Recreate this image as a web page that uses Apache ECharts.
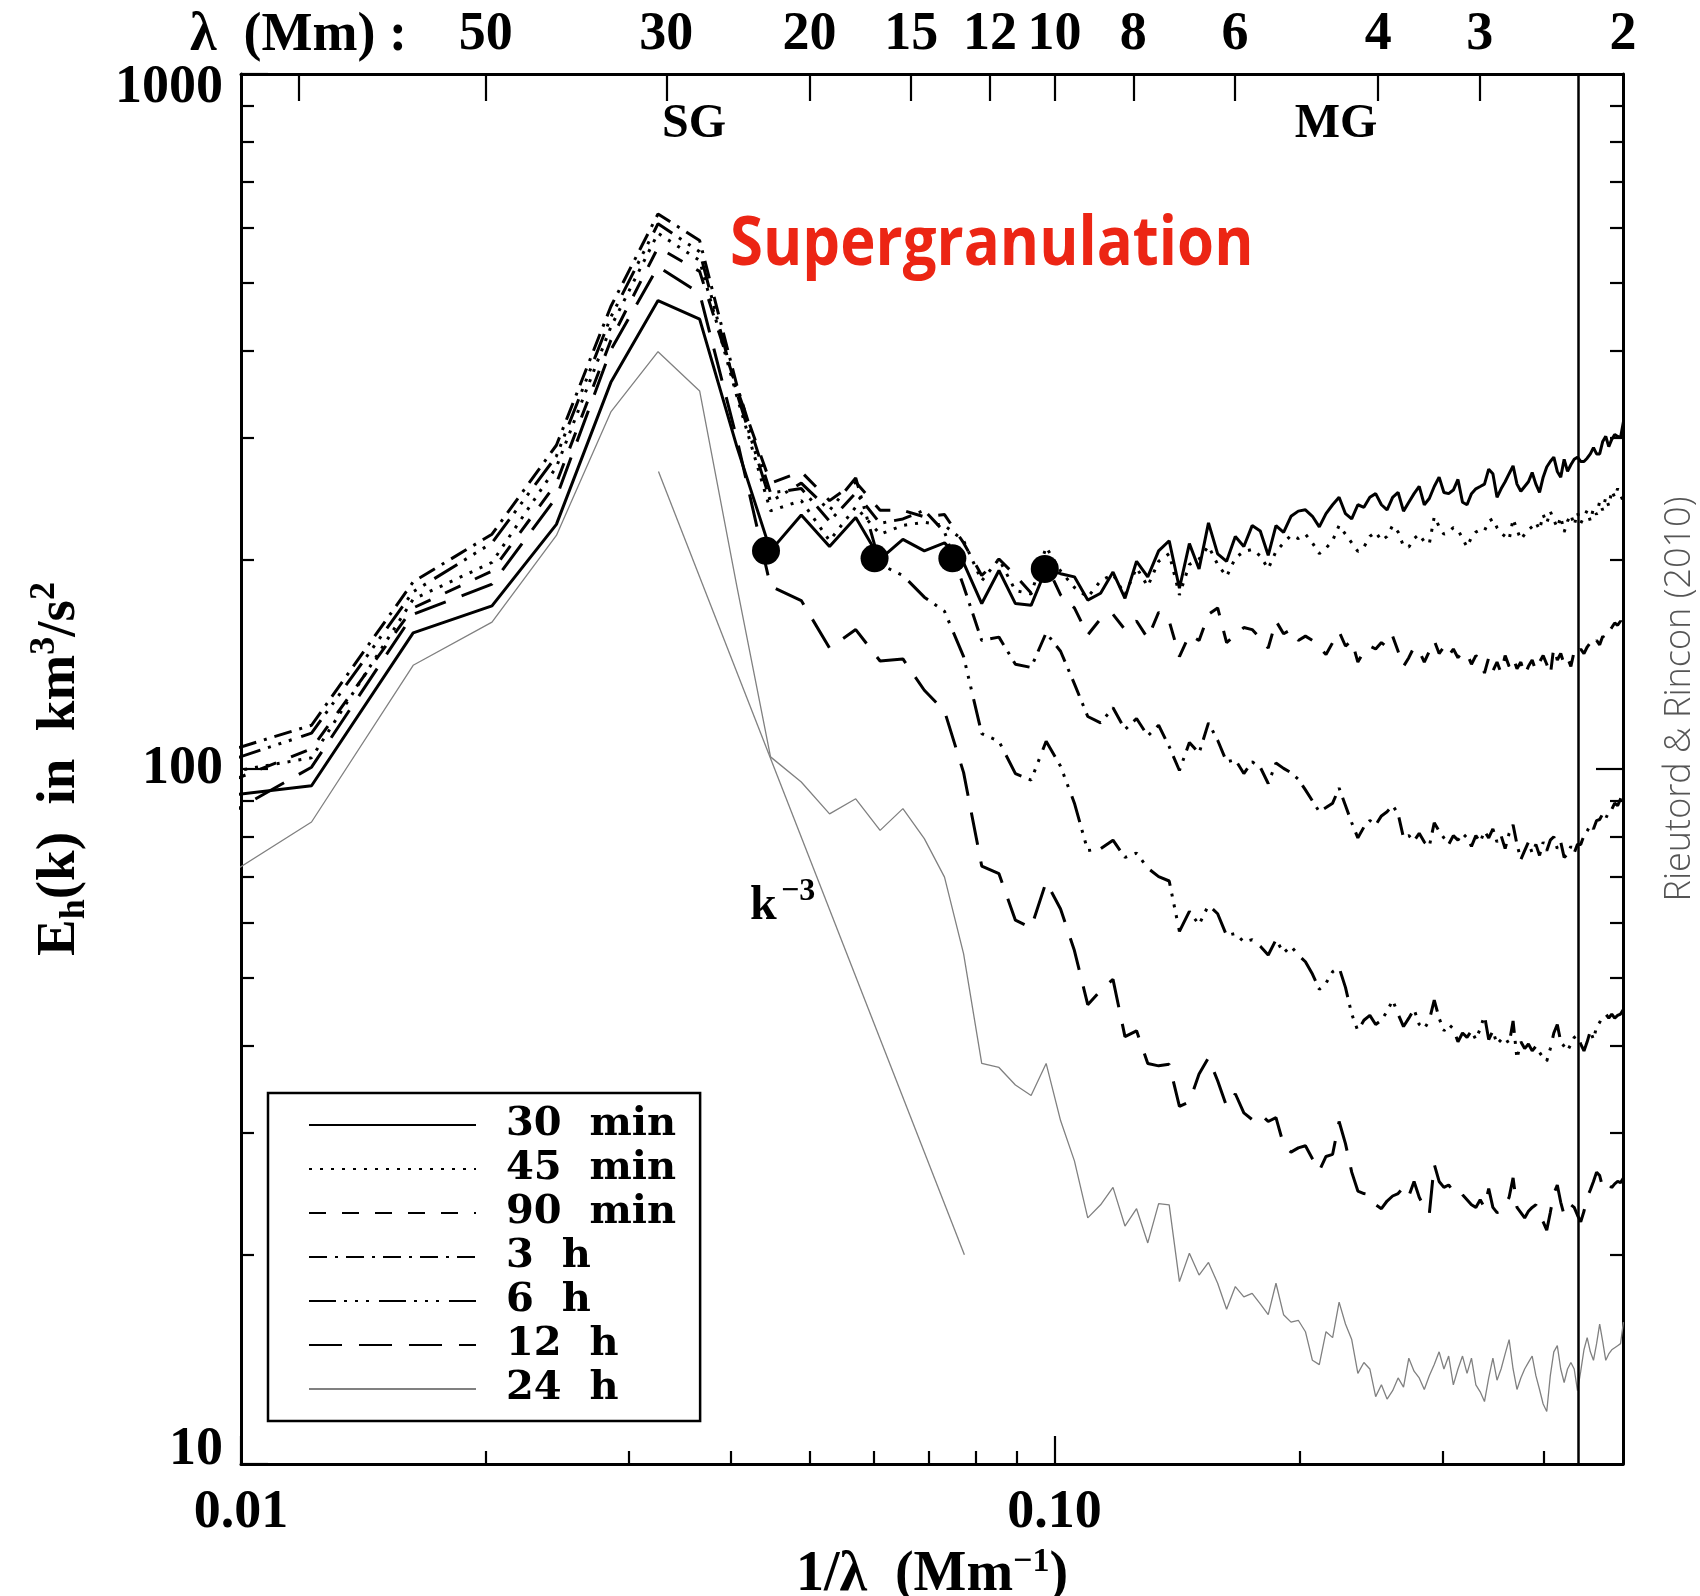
<!DOCTYPE html>
<html>
<head>
<meta charset="utf-8">
<title>Horizontal kinetic energy spectra</title>
<script src="https://cdn.jsdelivr.net/npm/echarts@6.0.0/dist/echarts.min.js"></script>
<style>
  html, body { margin: 0; padding: 0; background: #fff; }
  #main { width: 1700px; height: 1596px; }
</style>
</head>
<body>
<div id="main"></div>
<script>
// wavenumber 1/lambda (Mm^-1), one value per spectral bin
const wavenumber = [
  0.00814, 0.01221, 0.01628, 0.02035, 0.02442, 0.02849, 0.03256, 0.03663, 0.0407, 0.04477,
  0.04884, 0.05291, 0.05698, 0.06105, 0.06512, 0.06919, 0.07326, 0.07733, 0.0814, 0.08547,
  0.08954, 0.09361, 0.09768, 0.10175, 0.10582, 0.10989, 0.11396, 0.11803, 0.1221, 0.12617,
  0.13024, 0.13431, 0.13838, 0.14245, 0.14652, 0.15059, 0.15466, 0.15873, 0.1628, 0.16687,
  0.17094, 0.17501, 0.17908, 0.18315, 0.18722, 0.19129, 0.19536, 0.19943, 0.2035, 0.20757,
  0.21164, 0.21571, 0.21978, 0.22385, 0.22792, 0.23199, 0.23606, 0.24013, 0.2442, 0.24827,
  0.25234, 0.25641, 0.26048, 0.26455, 0.26862, 0.27269, 0.27676, 0.28083, 0.2849, 0.28897,
  0.29304, 0.29711, 0.30118, 0.30525, 0.30932, 0.31339, 0.31746, 0.32153, 0.3256, 0.32967,
  0.33374, 0.33781, 0.34188, 0.34595, 0.35002, 0.35409, 0.35816, 0.36223, 0.3663, 0.37037,
  0.37444, 0.37851, 0.38258, 0.38665, 0.39072, 0.39479, 0.39886, 0.40293, 0.407, 0.41107,
  0.41514, 0.41921, 0.42328, 0.42735, 0.43142, 0.43549, 0.43956, 0.44363, 0.4477, 0.45177,
  0.45584, 0.45991, 0.46398, 0.46805, 0.47212, 0.47619, 0.48026, 0.48433, 0.4884, 0.49247,
  0.49654, 0.50061
];

// E_h(k) in km^3/s^2 for each averaging window
const e30min = [
  89.5, 94.6, 157, 171.7, 224.9, 360, 472, 444, 291, 206,
  232, 209, 230, 200.5, 214, 206, 211.5, 198, 173, 193,
  173, 172, 194, 191, 189, 175, 179, 192, 176, 199,
  189, 206, 213, 182, 211, 194, 226, 204, 199, 216,
  209, 224, 220, 203, 224, 219, 231, 235, 236, 231,
  223, 233, 240, 246, 233, 229, 240, 238, 246, 249,
  240, 236, 246, 250, 235, 242, 249, 255, 240, 245,
  255, 263, 250, 249, 252, 261, 242, 240, 249, 253,
  255, 257, 270, 266, 246, 253, 259, 266, 273, 257,
  251, 255, 259, 267, 257, 250, 263, 272, 277, 281,
  268, 263, 279, 268, 274, 279, 281, 277, 277, 280,
  284, 290, 284, 284, 296, 301, 291, 298, 303, 301,
  300, 316
];
const e45min = [
  95.6, 103.8, 175.5, 198.3, 272, 432.6, 590, 539, 343.6, 235.2,
  243.3, 213.1, 238.2, 217.7, 224.1, 226.5, 224.1, 213.1, 186.5, 200.5,
  180.6, 178.6, 208.6, 192.7, 182.5, 176.7, 186.5, 190.6, 178, 194.8,
  183.2, 199, 204.1, 178, 196.9, 200.5, 209.3, 196.9, 189.2, 201.2,
  205.6, 207, 202.6, 194.1, 205.6, 211.5, 216.9, 214.6, 217.7, 211.5,
  204.1, 207.8, 213.1, 224.1, 217.7, 211.5, 205.6, 208.6, 216.1, 219.3,
  213.1, 216.1, 224.1, 219.3, 209.3, 208.6, 214.6, 217.7, 212.3, 210.8,
  230.6, 223.3, 217.7, 219.3, 222.5, 220.9, 214.6, 208.6, 215.4, 219.3,
  220.9, 220.1, 227.3, 229, 222.5, 218.5, 216.1, 213.8, 229, 220.9,
  213.8, 217.7, 220.9, 223.3, 226.5, 220.9, 232.3, 225.7, 234.8, 228.2,
  222.5, 230.6, 219.3, 227.3, 232.3, 224.1, 233.9, 225.7, 230.6, 235.6,
  227.3, 237.3, 232.3, 242.5, 235.6, 246, 239, 251.4, 246, 253.2,
  247.8, 242.5
];
const e90min = [
  88.6, 106.9, 170.5, 192.7, 257.8, 414, 563, 520, 352.5, 257.8,
  267.7, 243.3, 258.7, 235.6, 235.6, 230.6, 232.3, 211.5, 189.9, 200.5,
  189.9, 179.2, 196.9, 178, 170.5, 155.9, 164.5, 166.9, 158.7, 163.3,
  154.2, 168.1, 163.3, 145.1, 155.9, 153.1, 166.9, 170.5, 152, 155.9,
  159.8, 158.7, 154.2, 149.3, 163.3, 156.5, 158.7, 153.1, 155.3, 153.1,
  149.8, 146.1, 152, 157.6, 150.3, 153.1, 142.5, 147.7, 150.3, 148.8,
  152, 149.8, 155.3, 147.7, 140.5, 144.6, 149.8, 147.7, 142.5, 147.7,
  153.1, 146.6, 149.8, 145.6, 148.8, 144.6, 147.7, 146.6, 141.5, 145.6,
  143.5, 137.4, 144.6, 138.4, 142.5, 137.4, 145.6, 140.5, 144.6, 139.4,
  142.5, 136.4, 140.5, 143.5, 138.4, 142.5, 145.6, 141.5, 136.4, 149.8,
  143.5, 146.6, 141.5, 144.6, 140.5, 147.7, 145.6, 148.8, 146.6, 149.8,
  152, 149.3, 153.1, 150.9, 155.3, 153.1, 157.6, 159.8, 162.2, 161,
  163.3, 159.8
];
const e3h = [
  99.9, 115.6, 185.9, 217.7, 292.3, 462.9, 629, 576, 356.3, 249.6,
  253.2, 227.3, 249.6, 225.7, 229, 235.6, 219.3, 183.2, 153.1, 154.8,
  141.5, 140, 157, 147.7, 132.6, 119, 116.5, 122.5, 114, 118.2,
  111.6, 115.6, 107.7, 99.5, 109.2, 105.4, 116.5, 110, 102.4, 103.1,
  98.5, 102.4, 100.6, 95.3, 102, 100.2, 98.8, 96.7, 93.3, 90,
  86.8, 88, 89.3, 93.9, 88.6, 83.7, 79.6, 82.5, 84.3, 83.1,
  85.6, 86.8, 88.6, 86.2, 79.6, 80.2, 78.8, 80.8, 78.5, 77.4,
  83.7, 81.4, 79.6, 77.9, 80.2, 79, 80.8, 79.6, 77.4, 80.2,
  78.5, 81.4, 79.6, 82, 78.5, 80.2, 76.8, 80.8, 83.1, 77.9,
  74.1, 76.3, 78.5, 75.7, 77.9, 75.1, 78.5, 76.3, 79, 79.9,
  76.8, 78.5, 74.6, 75.4, 77.4, 75.7, 77.9, 77.9, 80.2, 81.4,
  83.1, 82, 84.3, 84.6, 86.2, 84.9, 86.8, 87.5, 89.3, 88.6,
  90.6, 92.6
];
const e6h = [
  96.2, 112.6, 179.9, 211.5, 282, 447, 609, 555, 347.4, 242.5,
  257.8, 235.6, 262.4, 196.9, 189.9, 176.7, 168.6, 145.1, 112.4, 109.6,
  98.5, 96.4, 109.6, 100.9, 89.3, 76.3, 76.8, 79, 74.6, 75.7,
  72, 70, 69, 58.4, 62.4, 59.7, 63.7, 61.9, 57.6, 58,
  56.4, 56.8, 55.6, 54, 56.8, 54.4, 55.6, 54, 52.8, 50.7,
  48.2, 49.2, 51.1, 51.8, 48.5, 44.4, 42, 43.5, 44.2, 42.9,
  43.5, 44.8, 46.5, 44.4, 42.6, 43.8, 45.1, 42.9, 42.3, 43.5,
  46.5, 43.8, 42, 42.9, 42.3, 40.5, 41.7, 41.1, 42, 40.8,
  42.3, 44.2, 40.8, 42, 40.2, 40.8, 41.1, 40.2, 43.4, 38.3,
  40.5, 39.6, 40.2, 39.3, 39.9, 39.1, 38.4, 38, 39.6, 41.7,
  42.9, 40.5, 39.9, 39.3, 40.2, 41.1, 41.4, 40.2, 39.3, 40.5,
  42, 40.8, 42.6, 43.2, 44.2, 44.4, 43.8, 44.4, 43.8, 44.2,
  44.4, 45.1
];
const e12h = [
  76.9, 100.6, 166.9, 184.5, 246, 401, 528, 483.7, 298.5, 183.2,
  174.7, 149.3, 158.7, 143, 144, 129.8, 121.2, 98.8, 72.5, 70.7,
  60.6, 59.1, 68.8, 62.9, 54.8, 45.8, 48, 49.8, 41.2, 42,
  37.7, 37.4, 37.6, 32.7, 33.2, 36.4, 38.4, 35.6, 32.7, 34.1,
  32, 31.3, 31.9, 31.1, 31.5, 28.8, 28.1, 28.5, 28.7, 27.5,
  26.4, 27.7, 27.9, 31.1, 28.9, 26.3, 24.7, 24.5, 24.4, 23.6,
  23.3, 23.9, 24.3, 24.5, 25, 24.3, 25.5, 24.2, 23.4, 22.9,
  27, 25.5, 25, 25.2, 24.7, 24.9, 24.4, 24, 23.6, 23.4,
  24, 23.4, 24.9, 23.4, 23, 23.1, 23.6, 24.2, 25.8, 23.4,
  23, 22.6, 23.1, 23.4, 23.6, 22.8, 22.3, 21.7, 23, 24.5,
  25.2, 23.8, 22.8, 23.3, 23.6, 23.4, 22.8, 22.3, 23.1, 24.2,
  24.8, 25.5, 26.3, 26, 25, 25.4, 25.2, 25, 25.3, 25.5,
  25.4, 25.8
];
const e24h = [
  62.1, 83.9, 141, 162.7, 216.8, 326.4, 398.5, 349.9, 183.2, 104.1,
  95.8, 86.2, 90.6, 81.6, 87.7, 79.4, 69.9, 54.2, 37.7, 37.2,
  35.1, 33.9, 37.7, 31.2, 27.3, 22.6, 23.6, 25, 22, 23.3,
  20.8, 23.7, 23.6, 18.3, 20.1, 18.7, 19.5, 18.2, 16.7, 18,
  17.4, 17.6, 17, 16.4, 18.2, 16.4, 16, 16.1, 15.5, 14.1,
  13.9, 15.5, 15.2, 17.1, 15.9, 15.1, 13.5, 14, 13.7, 12.5,
  13, 12.4, 12.75, 13.3, 12.9, 14.2, 13.6, 13.3, 12.8, 13.4,
  13.9, 14.5, 13.7, 14.3, 13, 13.7, 14.3, 13.5, 14.2, 13,
  12.7, 12.3, 13.3, 14.2, 13.2, 13.7, 14.4, 15.1, 13.7, 12.8,
  13.3, 13.7, 14, 14.3, 13.4, 12.8, 12.2, 11.9, 13.4, 14.5,
  14.8, 13.7, 13.1, 13.7, 14, 13.7, 12.75, 13.6, 14.6, 15.2,
  14.5, 14.1, 14.9, 15.9, 15, 14.1, 14.4, 14.6, 14.7, 14.8,
  14.9, 16
];

// separation points marked with filled circles
const dotK = [0.0442, 0.0601, 0.0749, 0.0973];
const dotE = [206, 201, 201, 194];

// k^-3 reference slope
const slopeK = [0.0326, 0.0775];
const slopeE = [268, 20];

// resolution limit (vertical line)
const resolutionK = 0.4355;

// tick positions
const lambdaTicks = [85, 50, 30, 20, 15, 12, 10, 8, 6, 4, 3];
const lambdaLabels = [50, 30, 20, 15, 12, 10, 8, 6, 4, 3, 2];
const kMajor = [0.01, 0.1];
const kMinor = [0.02, 0.03, 0.04, 0.05, 0.06, 0.07, 0.08, 0.09, 0.2, 0.3, 0.4];
const eMajor = [10, 100, 1000];
const eMinor = [20, 30, 40, 50, 60, 70, 80, 90, 200, 300, 400, 500, 600, 700, 800, 900];

const spectra = [
  { name: '30  min', values: e30min, color: '#000', width: 3, dash: 'solid' },
  { name: '45  min', values: e45min, color: '#000', width: 3, dash: [3, 8] },
  { name: '90  min', values: e90min, color: '#000', width: 3, dash: [17, 16] },
  { name: '3  h', values: e3h, color: '#000', width: 3, dash: [18, 8, 3, 8] },
  { name: '6  h', values: e6h, color: '#000', width: 3, dash: [27, 8, 3, 8, 3, 8, 3, 10] },
  { name: '12  h', values: e12h, color: '#000', width: 3, dash: [33, 17] },
  { name: '24  h', values: e24h, color: '#808080', width: 1.3, dash: 'solid' }
];

const serif = 'Liberation Serif';
const labelFont = { fontFamily: serif, fontWeight: 'bold', fontSize: 54, color: '#000' };
const axisLineStyle = { color: '#000', width: 3 };
const tickStyle = { color: '#000', width: 2.2 };

const chart = echarts.init(document.getElementById('main'));

const series = spectra.map(function (s) {
  return {
    name: s.name,
    type: 'line',
    data: wavenumber.map(function (k, i) { return [k, s.values[i]]; }),
    symbol: 'none',
    silent: true,
    lineStyle: { color: s.color, width: s.width, type: s.dash, cap: 'butt' },
    itemStyle: { color: s.color },
    z: 3
  };
});

series.push({
  name: 'k-3',
  type: 'line',
  data: slopeK.map(function (k, i) { return [k, slopeE[i]]; }),
  symbol: 'none',
  silent: true,
  lineStyle: { color: '#808080', width: 1.3 },
  z: 2
});

series.push({
  name: 'dots',
  type: 'scatter',
  data: dotK.map(function (k, i) { return [k, dotE[i]]; }),
  symbolSize: 28,
  silent: true,
  itemStyle: { color: '#000', opacity: 1 },
  z: 5,
  markLine: {
    silent: true,
    symbol: ['none', 'none'],
    label: { show: false },
    lineStyle: { color: '#000', width: 2.5, type: 'solid', opacity: 1 },
    data: [{ xAxis: resolutionK }]
  }
});

const option = {
  animation: false,
  backgroundColor: '#fff',
  grid: { left: 241, top: 74, width: 1382, height: 1390, containLabel: false, outerBoundsMode: 'none' },
  legend: {
    data: spectra.map(function (s) { return s.name; }),
    orient: 'vertical',
    left: 268,
    top: 1093,
    itemWidth: 167,
    itemHeight: 20,
    itemGap: 0,
    padding: [10, 24, 10, 40],
    borderColor: '#000',
    borderWidth: 2.5,
    backgroundColor: '#fff',
    selectedMode: false,
    itemStyle: { opacity: 0 },
    textStyle: {
      fontFamily: 'DejaVu Serif', fontWeight: 'bold', fontSize: 40, color: '#000',
      lineHeight: 44, padding: [0, 0, 0, 25]
    }
  },
  xAxis: [
    {
      type: 'log', logBase: 10, min: 0.01, max: 0.5, position: 'bottom',
      axisLine: { show: true, onZero: false, lineStyle: axisLineStyle },
      axisTick: { show: true, inside: true, length: 28, lineStyle: tickStyle, customValues: kMajor },
      axisLabel: Object.assign({
        customValues: kMajor, margin: 22,
        formatter: function (v) { return v < 0.05 ? '0.01' : '0.10'; }
      }, labelFont),
      splitLine: { show: false },
      name: '{a|1/λ  (Mm}{c|−1}{a|)}',
      nameLocation: 'middle',
      nameGap: 70,
      nameTextStyle: {
        rich: {
          a: { fontFamily: serif, fontWeight: 'bold', fontSize: 56, color: '#000', lineHeight: 62 },
          c: { fontFamily: serif, fontWeight: 'bold', fontSize: 34, color: '#000', verticalAlign: 'top', lineHeight: 62 }
        }
      }
    },
    {
      type: 'log', logBase: 10, min: 0.01, max: 0.5, position: 'bottom',
      axisLine: { show: false, onZero: false },
      axisTick: { show: true, inside: true, length: 13, lineStyle: tickStyle, customValues: kMinor },
      axisLabel: { show: false },
      splitLine: { show: false }
    },
    {
      type: 'log', logBase: 10, min: 0.01, max: 0.5, position: 'top',
      axisLine: { show: true, onZero: false, lineStyle: axisLineStyle },
      axisTick: {
        show: true, inside: true, length: 27, lineStyle: tickStyle,
        customValues: lambdaTicks.map(function (l) { return 1 / l; })
      },
      axisLabel: Object.assign({
        customValues: lambdaLabels.map(function (l) { return 1 / l; }),
        margin: 12,
        formatter: function (v) { return String(Math.round(1 / v)); }
      }, labelFont),
      splitLine: { show: false }
    }
  ],
  yAxis: [
    {
      type: 'log', logBase: 10, min: 10, max: 1000, position: 'left',
      axisLine: { show: true, onZero: false, lineStyle: axisLineStyle },
      axisTick: { show: true, inside: true, length: 27, lineStyle: tickStyle, customValues: eMajor },
      axisLabel: Object.assign({
        customValues: eMajor, margin: 18,
        formatter: function (v) {
          if (v > 500) return '{hi|1000}';
          if (v < 50) return '{lo|10}';
          return '{m|100}';
        },
        rich: {
          hi: { fontFamily: serif, fontWeight: 'bold', fontSize: 54, color: '#000', padding: [28, 0, 0, 0] },
          lo: { fontFamily: serif, fontWeight: 'bold', fontSize: 54, color: '#000', padding: [0, 0, 28, 0] },
          m: { fontFamily: serif, fontWeight: 'bold', fontSize: 54, color: '#000' }
        }
      }, labelFont),
      splitLine: { show: false },
      name: '{a|E}{b|h}{a|(k)  in  km}{c|3}{a|/s}{c|2}',
      nameLocation: 'middle',
      nameRotate: 90,
      nameGap: 148,
      nameTextStyle: {
        rich: {
          a: { fontFamily: serif, fontWeight: 'bold', fontSize: 55, color: '#000', lineHeight: 66 },
          b: { fontFamily: serif, fontWeight: 'bold', fontSize: 36, color: '#000', verticalAlign: 'bottom', lineHeight: 66 },
          c: { fontFamily: serif, fontWeight: 'bold', fontSize: 36, color: '#000', verticalAlign: 'top', lineHeight: 66 }
        }
      }
    },
    {
      type: 'log', logBase: 10, min: 10, max: 1000, position: 'left',
      axisLine: { show: false, onZero: false },
      axisTick: { show: true, inside: true, length: 13, lineStyle: tickStyle, customValues: eMinor },
      axisLabel: { show: false },
      splitLine: { show: false }
    },
    {
      type: 'log', logBase: 10, min: 10, max: 1000, position: 'right',
      axisLine: { show: true, onZero: false, lineStyle: axisLineStyle },
      axisTick: { show: true, inside: true, length: 27, lineStyle: tickStyle, customValues: [100] },
      axisLabel: { show: false },
      splitLine: { show: false }
    },
    {
      type: 'log', logBase: 10, min: 10, max: 1000, position: 'right',
      axisLine: { show: false, onZero: false },
      axisTick: { show: true, inside: true, length: 13, lineStyle: tickStyle, customValues: eMinor },
      axisLabel: { show: false },
      splitLine: { show: false }
    }
  ],
  graphic: [
    {
      type: 'text', x: 407, y: 36, silent: true,
      style: { text: 'λ  (Mm) :', font: 'bold 54px "Liberation Serif"', fill: '#000', align: 'right', verticalAlign: 'middle' }
    },
    {
      type: 'text', x: 694, y: 125, silent: true,
      style: { text: 'SG', font: 'bold 48px "Liberation Serif"', fill: '#000', align: 'center', verticalAlign: 'middle' }
    },
    {
      type: 'text', x: 1336, y: 125, silent: true,
      style: { text: 'MG', font: 'bold 48px "Liberation Serif"', fill: '#000', align: 'center', verticalAlign: 'middle' }
    },
    {
      type: 'text', x: 730, y: 246, scaleX: 0.88, silent: true,
      style: { text: 'Supergranulation', font: 'bold 68px "Open Sans"', fill: '#ec2514', align: 'left', verticalAlign: 'middle' }
    },
    {
      type: 'text', x: 750, y: 907, silent: true,
      style: { text: 'k', font: 'bold 48px "Liberation Serif"', fill: '#000', align: 'left', verticalAlign: 'middle' }
    },
    {
      type: 'text', x: 781, y: 892, silent: true,
      style: { text: '−3', font: 'bold 32px "Liberation Serif"', fill: '#000', align: 'left', verticalAlign: 'middle' }
    },
    {
      type: 'text', x: 1680, y: 699, rotation: Math.PI / 2, silent: true,
      style: { text: 'Rieutord & Rincon (2010)', font: '300 36px "Open Sans"', fill: '#555', align: 'center', verticalAlign: 'middle' }
    }
  ],
  series: series
};

chart.setOption(option);
</script>
</body>
</html>
